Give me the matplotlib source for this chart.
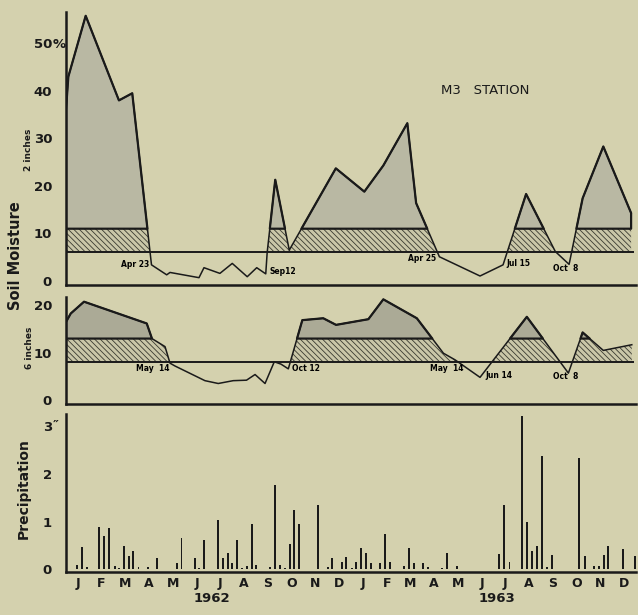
import numpy as np
import matplotlib
matplotlib.use("Agg")
import matplotlib.pyplot as plt
from matplotlib.patches import Rectangle

# x values are months since 1 Jan 1962
top_x = [0.0, 0.1, 0.83, 2.23, 2.79, 3.6, 4.24, 4.38, 5.6, 5.81, 6.48, 7.0, 7.63, 8.03,
         8.41, 8.47, 8.81, 9.4, 11.36, 12.56, 13.36, 14.37, 14.74, 15.72, 17.43, 18.4,
         19.37, 20.6, 21.18, 21.75, 22.62, 23.79]
top_y = [36.0, 43.0, 55.8, 38.0, 39.5, 3.4, 1.3, 1.8, 0.7, 2.8, 1.6, 3.7, 0.9, 2.8,
         1.5, 6.0, 21.3, 6.5, 23.7, 18.8, 24.3, 33.2, 16.4, 5.1, 1.05, 3.4,
         18.3, 6.2, 3.5, 17.4, 28.3, 14.3]

mid_x = [0.0, 0.2, 0.76, 3.4, 3.62, 4.17, 4.38, 4.59, 5.85, 6.41, 7.04, 7.6, 7.96, 8.38,
         8.77, 9.05, 9.36, 9.95, 10.83, 11.37, 12.73, 13.36, 14.77, 15.89, 16.38, 17.43,
         19.4, 21.15, 21.75, 22.62, 23.82]
mid_y = [16.5, 18.3, 20.8, 16.2, 13.0, 11.3, 7.8, 7.2, 4.1, 3.5, 4.1, 4.2, 5.4, 3.5,
         8.1, 7.6, 6.6, 16.9, 17.3, 15.9, 17.1, 21.3, 17.3, 9.9, 8.5, 4.8,
         17.6, 5.7, 14.3, 10.5, 11.7]

top_levels = (6, 11)
mid_levels = (8, 13)

rain_x = [0.45, 0.67, 0.90, 1.40, 1.61, 1.82, 2.05, 2.24, 2.43, 2.65, 2.82, 3.05, 3.44, 3.83,
          4.66, 4.86, 5.43, 5.60, 5.81, 6.41, 6.61, 6.81, 7.00, 7.20, 7.42, 7.62, 7.82, 8.01,
          8.22, 8.60, 8.80, 9.00, 9.22, 9.42, 9.61, 9.81, 10.62, 11.02, 11.21, 11.61, 11.80,
          12.03, 12.21, 12.41, 12.62, 12.84, 13.22, 13.42, 13.64, 14.23, 14.43, 14.65, 15.03,
          15.23, 15.83, 16.04, 16.45, 17.01, 17.22, 18.23, 18.43, 18.67, 19.19, 19.42, 19.63,
          19.82, 20.04, 20.25, 20.45, 21.61, 21.85, 22.24, 22.44, 22.64, 22.83, 23.44, 23.96]
rain_in = [0.08, 0.46, 0.04, 0.88, 0.69, 0.87, 0.06, 0.02, 0.48, 0.28, 0.38, 0.04, 0.04, 0.23,
           0.13, 0.66, 0.24, 0.02, 0.62, 1.03, 0.23, 0.35, 0.13, 0.62, 0.02, 0.06, 0.94, 0.08,
           0.01, 0.04, 1.76, 0.09, 0.02, 0.53, 1.25, 0.94, 1.34, 0.04, 0.23, 0.15, 0.25,
           0.02, 0.15, 0.45, 0.34, 0.14, 0.14, 0.73, 0.15, 0.07, 0.45, 0.14, 0.14,
           0.04, 0.02, 0.35, 0.06, 0.01, 0.01, 0.32, 1.34, 0.15, 3.2, 0.99, 0.38,
           0.48, 2.38, 0.04, 0.30, 2.34, 0.27, 0.06, 0.06, 0.31, 0.48, 0.43, 0.28]

month_letters = list("JFMAMJJASOND") * 2
years = ["1962", "1963"]

top_notes = [("Apr 23", 3.5, 3.4, "right"), ("Sep12", 8.55, 1.9, "left"),
             ("Apr 25", 15.6, 4.8, "right"), ("Jul 15", 18.55, 3.6, "left"),
             ("Oct  8", 20.5, 2.7, "left")]
mid_notes = [("May  14", 4.35, 6.6, "right"), ("Oct 12", 9.5, 6.6, "left"),
             ("May  14", 15.33, 6.6, "left"), ("Jun 14", 17.64, 5.1, "left"),
             ("Oct  8", 20.5, 4.9, "left")]

bg = "#d4d1ae"
ink = "#1a1a1a"
plt.rcParams["font.family"] = ["DejaVu Sans"]
plt.rcParams["hatch.linewidth"] = 0.6

fig = plt.figure(figsize=(6.38, 6.15), dpi=100, facecolor=bg)
ax1 = fig.add_axes([0.1034, 0.5366, 0.8936, 0.4439])
ax2 = fig.add_axes([0.1034, 0.3426, 0.8936, 0.1745])
ax3 = fig.add_axes([0.1034, 0.0704, 0.8936, 0.2564])


def style_axis(ax):
    ax.set_facecolor(bg)
    ax.set_xlim(0, 24)
    for s in ("top", "right"):
        ax.spines[s].set_visible(False)
    for s in ("left", "bottom"):
        ax.spines[s].set_linewidth(1.8)
        ax.spines[s].set_color(ink)


def moisture(ax, xs, ys, levels, fill, ylim, ticks):
    xs = np.array(xs)
    ys = np.array(ys)
    lo, hi = levels
    style_axis(ax)
    hatch = ax.fill_between(xs, lo, ys, where=ys > lo, interpolate=True,
                            facecolor="#cac7a8", edgecolor="#3a3a30", hatch="\\\\\\\\\\\\",
                            linewidth=0)
    hatch.set_clip_path(Rectangle((0, lo), 24, hi - lo, transform=ax.transData))
    ax.fill_between(xs, hi, ys, where=ys > hi, interpolate=True,
                    facecolor=fill, edgecolor=ink, linewidth=1.6)
    ax.hlines(lo, 0, 23.9, color=ink, linewidth=1.4)
    ax.plot(xs, ys, color=ink, linewidth=1.1)
    ax.set_ylim(*ylim)
    ax.set_yticks(ticks)
    ax.set_yticklabels([str(t) for t in ticks], fontsize=9.5, fontweight="bold", color=ink)
    ax.set_xticks([])
    ax.tick_params(axis="y", length=0, pad=10)


moisture(ax1, top_x, top_y, top_levels, "#b9b8a3", (-0.84, 56.6), [0, 10, 20, 30, 40, 50])
moisture(ax2, mid_x, mid_y, mid_levels, "#abaa96", (-0.9, 21.8), [0, 10, 20])

# unit marks sitting right after the top tick labels
fig.text(0.082, 0.928, "%", fontsize=9.5, fontweight="bold", ha="left", va="center", color=ink)
fig.text(0.082, 0.309, "\u2033", fontsize=9.5, fontweight="bold", ha="left", va="center", color=ink)

for txt, x, y, ha in top_notes:
    ax1.text(x, y, txt, fontsize=5.5, fontweight="bold", ha=ha, va="center")
for txt, x, y, ha in mid_notes:
    ax2.text(x, y, txt, fontsize=5.5, fontweight="bold", ha=ha, va="center")

ax1.text(17.64, 40, "M3   STATION", fontsize=9.5, ha="center", va="center", color=ink)

# precipitation
style_axis(ax3)
ax3.bar(rain_x, rain_in, width=0.075, color=ink)
ax3.set_ylim(-0.05, 3.25)
ax3.set_yticks([0, 1, 2, 3])
ax3.set_yticklabels(["0", "1", "2", "3"], fontsize=9.5, fontweight="bold", color=ink)
ax3.set_xticks(np.arange(24) + 0.5)
ax3.set_xticklabels(month_letters, fontsize=9, fontweight="bold", color=ink)
ax3.tick_params(axis="x", length=0, pad=4)
ax3.tick_params(axis="y", length=0, pad=10)
for yr, xm in zip(years, [6.15, 18.15]):
    ax3.text(xm, -0.48, yr, fontsize=9.5, fontweight="bold", ha="center", va="top", color=ink)

fig.text(0.024, 0.585, "Soil Moisture", rotation=90, fontsize=10.5, fontweight="bold",
         ha="center", va="center", color=ink)
fig.text(0.044, 0.757, "2 inches", rotation=90, fontsize=6.5, fontweight="bold",
         ha="center", va="center", color=ink)
fig.text(0.047, 0.434, "6 inches", rotation=90, fontsize=6.5, fontweight="bold",
         ha="center", va="center", color=ink)
fig.text(0.037, 0.206, "Precipitation", rotation=90, fontsize=10, fontweight="bold",
         ha="center", va="center", color=ink)

fig.savefig("out.png", dpi=100, facecolor=bg)
